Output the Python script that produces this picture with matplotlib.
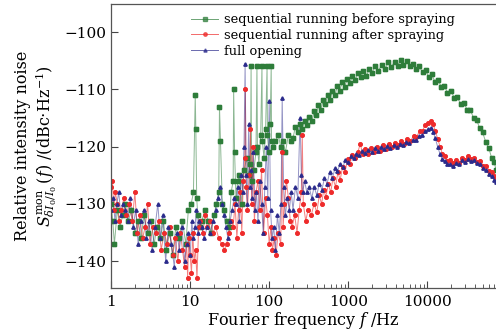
import matplotlib
matplotlib.use("Agg")
import matplotlib.pyplot as plt
from matplotlib.ticker import LogLocator, NullFormatter

plt.rcParams["font.family"] = ["DejaVu Serif"]
plt.rcParams["mathtext.fontset"] = "dejavuserif"

# ---- sequential running before spraying (green)
f_green = [1.0, 1.05, 1.1, 1.2, 1.3, 1.4, 1.5, 1.65, 1.8, 2.0,
           2.2, 2.4, 2.6, 2.9, 3.2, 3.5, 3.8, 4.2, 4.6, 5.0,
           5.5, 6.0, 6.6, 7.2, 8.0, 8.8, 9.5, 10.3, 11.0, 11.6,
           11.8, 12.1, 12.5, 13.2, 14, 15.5, 17, 18.5, 20, 21.5,
           23, 23.5, 24.2, 25.5, 27, 29, 31, 33, 35, 35.5,
           36.5, 38, 40, 42, 45, 48, 52, 55, 58, 59,
           60, 64, 68, 70, 71, 74, 78, 81, 82, 86,
           90, 94, 95, 99, 103, 106, 107, 112, 120, 130,
           140, 150, 160, 175, 190,
           200, 215, 230, 245, 260, 280, 300, 320, 345, 370,
           395, 420, 450, 480, 515, 550, 590, 630, 680, 730,
           780, 840, 900, 970, 1050, 1130, 1220, 1320, 1430, 1550,
           1700, 1850, 2000, 2200, 2400, 2650, 2900, 3200, 3500, 3850,
           4200, 4600, 5000, 5500, 6000, 6600, 7200, 7900, 8700, 9500,
           10400, 11400, 12500, 13700, 15000, 16500, 18000, 20000, 22000, 24000,
           26500, 29000, 32000, 35000, 38500, 42000, 46000, 50000, 55000, 60000,
           65000, 70000, 74000]
rin_green = [-130, -133, -137, -131, -134, -132, -130, -133, -131, -135,
             -133, -136, -132, -135, -133, -137, -134, -136, -133, -138,
             -135, -139, -134, -136, -133, -137, -131, -130, -128, -111,
             -117, -129, -132, -134, -133, -131, -133, -135, -132, -130,
             -128, -113, -119, -130, -131, -133, -134, -128, -126, -110,
             -121, -129, -126, -125, -130, -124, -122, -125, -123, -106,
             -126, -124, -121, -106, -120, -123, -118, -106, -119, -122,
             -117, -106, -118, -121, -116, -106, -119, -120, -119, -118,
             -120, -119, -121, -118, -119,
             -118.5, -116.5, -117.5, -116, -117, -115.5, -116.3, -114.8, -115.6, -113.8,
             -114.5, -112.8, -113.6, -111.8, -112.6, -110.9, -111.8, -110.2, -111, -109.4,
             -110.2, -108.8, -109.6, -108.2, -108.9, -107.6, -108.4, -107.2, -107.9, -106.8,
             -107.6, -106.4, -107.1, -105.9, -106.8, -105.7, -106.5, -105.3, -106.1, -105.2,
             -105.9, -104.9, -105.8, -105.1, -106.0, -105.5, -106.4, -106.0, -107.0, -106.6,
             -107.8, -107.4, -108.7, -108.3, -109.6, -109.4, -110.6, -110.3, -111.5, -111.4,
             -112.6, -112.3, -113.6, -113.6, -115.0, -115.3, -116.8, -117.5, -119.2, -120.3,
             -121.9, -122.7, -124.0]

# ---- sequential running after spraying (red)
f_red = [1.0, 1.04, 1.08, 1.13, 1.2, 1.27, 1.35, 1.45, 1.55, 1.7,
         1.85, 2.0, 2.15, 2.3, 2.5, 2.7, 2.9, 3.1, 3.4, 3.7,
         4.0, 4.3, 4.7, 5.1, 5.5, 6.0, 6.5, 7.0, 7.5, 8.0,
         8.5, 9.0, 9.3, 9.6, 10.0, 10.4, 10.8, 11.2, 11.7, 12.2,
         12.8, 13.5, 14.5, 15.5, 16.5, 18, 19.5, 21, 23, 25,
         27, 29, 31, 33, 35, 37, 39, 41, 43, 45,
         47, 49, 50, 51, 53, 56, 58, 60, 62, 65,
         68, 72, 76, 80, 85, 90, 95, 100, 105, 110,
         116, 122, 130, 140, 146, 150, 156, 165, 175, 185,
         195, 210, 225, 240, 255, 262, 270, 290, 310, 340,
         370, 400, 430, 460, 490, 520, 560, 600, 640, 690,
         740, 790, 850, 910, 980, 1050, 1130, 1220, 1320, 1420,
         1520, 1650, 1800, 1950, 2100, 2300, 2500, 2750, 3000, 3300,
         3600, 3950, 4300, 4700, 5100, 5600, 6100, 6700, 7300, 8000,
         8700, 9400, 10200, 11000, 11800, 12600, 13500, 14500, 15500, 16700,
         18000, 19500, 21000, 23000, 25000, 27500, 30000, 33000, 36000, 39000,
         43000, 47000, 51000, 56000, 61000, 66000, 70000, 74000]
rin_red = [-127, -126, -131, -128, -130, -133, -131, -129, -132, -130,
           -133, -128, -135, -132, -136, -134, -130, -137, -134, -135,
           -133, -138, -135, -137, -134, -139, -136, -140, -135, -138,
           -141, -137, -143, -136, -139, -142, -135, -140, -138, -143,
           -134, -133, -135, -132, -134, -133, -135, -134, -136, -137,
           -138, -137, -135, -133, -134, -130, -136, -131, -128, -135,
           -126, -122, -110, -127, -131, -125, -117, -130, -120, -133,
           -128, -126, -131, -124, -135, -129, -132, -137, -134, -138,
           -136, -139, -135, -137, -121, -134, -130, -126, -129, -133,
           -134, -132, -135, -131, -128, -118, -130, -133, -131, -132,
           -130, -131.5, -128.5, -130, -127.5, -128.8, -126.5, -128, -125.5, -127,
           -124.5, -125.8, -123.5, -124.5, -122.2, -123, -121.5, -122, -121, -119.5,
           -121.3, -120.5, -121.2, -120.3, -121, -120.1, -120.7, -119.8, -120.4, -119.5,
           -120.1, -119.3, -119.8, -119, -119.5, -118.7, -119.1, -118.1, -118.3, -117.3,
           -117.2, -116.2, -115.9, -115.5, -116.0, -117.2, -118.6, -120.0, -121.2, -121.6,
           -122.5, -122.3, -122.9, -122.4, -122.8, -122.0, -122.3, -121.7, -122.1, -121.9,
           -122.6, -122.5, -123.3, -123.4, -124.2, -124.5, -125.1, -125.3]

# ---- full opening (blue)
f_blue = [1.0, 1.06, 1.12, 1.18, 1.25, 1.33, 1.42, 1.52, 1.62, 1.75,
          1.9, 2.05, 2.2, 2.4, 2.6, 2.8, 3.0, 3.3, 3.6, 3.9,
          4.2, 4.5, 4.9, 5.3, 5.8, 6.3, 6.8, 7.3, 7.9, 8.5,
          9.0, 9.5, 10.0, 10.5, 11.0, 11.5, 12.0, 12.5, 13.0, 14.0,
          15, 16.5, 18, 19.5, 21, 22.5, 24, 25.5, 27, 28.5,
          30, 32, 34, 36, 38, 40, 42, 44, 46, 48,
          49.6, 51, 53, 55, 57, 59, 61, 63, 66, 69,
          72, 76, 80, 84, 88, 92, 96, 100, 104, 109,
          114, 120, 127, 134, 141, 146, 152, 160, 170, 180,
          190, 200, 215, 230, 246, 255, 265, 280, 300, 320,
          345, 370, 400, 430, 465, 500, 540, 580, 630, 680,
          730, 790, 850, 920, 1000, 1080, 1170, 1270, 1380, 1500,
          1650, 1800, 1970, 2150, 2350, 2600, 2850, 3100, 3400, 3750,
          4100, 4500, 4950, 5400, 5900, 6500, 7100, 7800, 8500, 9300,
          10100, 11000, 11800, 12600, 13500, 14500, 15500, 16700, 18000, 19500,
          21000, 23000, 25000, 27500, 30000, 33000, 36000, 39000, 43000, 47000,
          51000, 56000, 61000, 66000, 70000, 74000]
rin_blue = [-131, -129, -133, -130, -128, -132, -130, -131, -133, -129,
            -134, -131, -137, -133, -131, -136, -133, -138, -134, -130,
            -136, -132, -140, -134, -137, -141, -135, -138, -134, -140,
            -137, -135, -139, -133, -136, -134, -131, -135, -133, -134,
            -136, -134, -135, -133, -131, -129, -127, -130, -132, -134,
            -136, -133, -131, -129, -130, -127, -133, -125, -128, -120,
            -105.5, -125, -130, -116, -127, -124, -129, -121, -131, -128,
            -133, -126, -130, -135, -127, -120, -129, -112, -131, -136,
            -134, -138, -132, -135, -130, -111.5, -127, -132, -129, -131,
            -128, -131, -127, -129, -115, -125, -128, -126, -128, -127,
            -129, -127, -128.5, -126.5, -127.5, -125.5, -126.5, -124.5, -125.5, -123.8,
            -124.3, -123, -123.6, -122.4, -122.6, -121.7, -122.0, -121.2, -121.4, -120.8,
            -121.1, -120.6, -120.9, -120.3, -120.7, -120.1, -120.5, -119.9, -120.2, -119.7,
            -120.0, -119.5, -119.7, -119.2, -119.4, -118.8, -118.9, -118.2, -118.0, -117.3,
            -117.0, -116.7, -117.4, -118.5, -120.0, -121.3, -122.2, -122.5, -123.1, -123.0,
            -123.3, -122.8, -123.1, -122.4, -122.7, -122.1, -122.5, -122.3, -122.9, -123.0,
            -123.7, -124.0, -124.8, -125.2, -125.8, -126.2]

labels = ["sequential running before spraying",
          "sequential running after spraying",
          "full opening"]

green = "#2e7d3a"
red = "#ee2b2b"
blue = "#2b2b8c"

fig = plt.figure(figsize=(4.96, 3.35), dpi=100)
ax = fig.add_axes([0.224, 0.140, 0.776, 0.848])

ax.plot(f_green, rin_green, color=green, lw=0.7, alpha=0.55, marker="s",
        ms=2.3, mec=green, mfc=green, label=labels[0])
ax.plot(f_red, rin_red, color=red, lw=0.7, alpha=0.6, marker="o",
        ms=2.5, mec=red, mfc=red, label=labels[1])
ax.plot(f_blue, rin_blue, color=blue, lw=0.7, alpha=0.5, marker="^",
        ms=2.3, mec=blue, mfc=blue, label=labels[2])
# solid markers on top of the faint lines
ax.plot(f_green, rin_green, ls="none", marker="s", ms=2.3, color=green)
ax.plot(f_red, rin_red, ls="none", marker="o", ms=2.5, color=red)
ax.plot(f_blue, rin_blue, ls="none", marker="^", ms=2.3, color=blue)

ax.set_xscale("log")
ax.set_xlim(1, 74000)
ax.set_ylim(-144.7, -95.1)
ax.set_xticks([1, 10, 100, 1000, 10000])
ax.set_xticklabels(["1", "10", "100", "1000", "10000"])
ax.xaxis.set_minor_locator(LogLocator(base=10, subs=range(2, 10), numticks=20))
ax.xaxis.set_minor_formatter(NullFormatter())
ax.set_yticks([-140, -130, -120, -110, -100])
ax.set_yticklabels(["\u2212140", "\u2212130", "\u2212120", "\u2212110", "\u2212100"])

ax.tick_params(which="both", direction="in", labelsize=11, color="#444444")
ax.tick_params(which="major", length=5, width=0.8)
ax.tick_params(which="minor", length=3, width=0.6)
ax.tick_params(axis="x", pad=5)
for s in ["left", "bottom", "top"]:
    ax.spines[s].set_color("#555555")
    ax.spines[s].set_linewidth(0.9)
ax.spines["right"].set_visible(False)

ax.set_xlabel("Fourier frequency $f$ /Hz", fontsize=11.5, labelpad=1)
ax.set_ylabel("Relative intensity noise\n"
              r"$S^{\rm mon}_{\delta I_0/I_0}\,(f)$ /(dBc$\cdot$Hz$^{-1}$)",
              fontsize=11.5, labelpad=4, linespacing=1.1)

leg = ax.legend(loc="upper left", bbox_to_anchor=(0.185, 1.0), frameon=False,
                fontsize=9.3, handlelength=2.1, handletextpad=0.45, labelspacing=0.22,
                borderaxespad=0.3)
for h in leg.get_lines():
    h.set_alpha(0.7)

fig.savefig("out.png", dpi=100)
